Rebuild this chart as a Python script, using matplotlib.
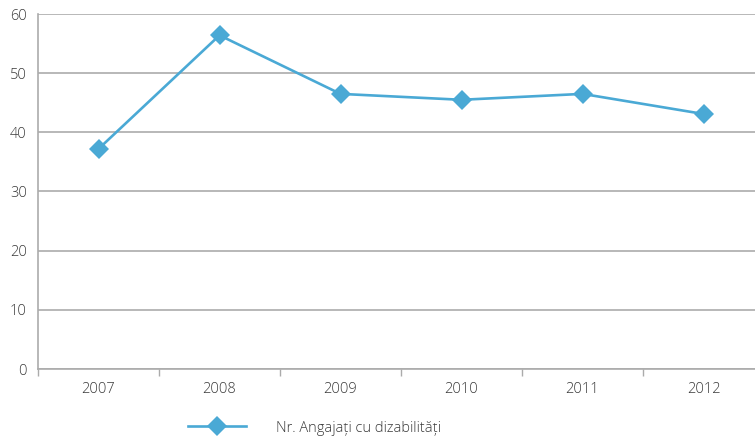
import numpy as np
import matplotlib
matplotlib.use("Agg")
import matplotlib.pyplot as plt
from matplotlib.ticker import FixedLocator

years = ["2007", "2008", "2009", "2010", "2011", "2012"]
angajati = [37.2, 56.4, 46.5, 45.5, 46.5, 43.1]
series_name = "Nr. Angajați cu dizabilități"

plt.rcParams['font.family'] = ['Open Sans', 'DejaVu Sans']
plt.rcParams['font.weight'] = 'light'

line_col = '#4aa9d5'
grid_col = '#ababab'
text_col = '#3a3a3a'

fig = plt.figure(figsize=(7.55, 4.36), dpi=100)
ax = fig.add_axes([38/755, 67/436, 726/755, 355/436])

x = np.arange(len(years))
ax.plot(x, angajati, color=line_col, lw=1.9, marker='D', markersize=10,
        markeredgewidth=0, label=series_name)

ax.set_xlim(-0.5, len(years) - 0.5)
ax.set_ylim(0, 60)
ax.set_yticks(range(0, 61, 10))
ax.yaxis.grid(True, color=grid_col, lw=1.2)
ax.set_axisbelow(True)

ax.set_xticks(x)
ax.set_xticklabels(years)
ax.xaxis.set_minor_locator(FixedLocator(np.arange(-0.5, len(years), 1.0)))
ax.tick_params(axis='x', which='major', length=0, pad=9, labelsize=10.5, colors=text_col)
ax.tick_params(axis='x', which='minor', length=5, width=1, color=grid_col, direction='out')
ax.tick_params(axis='y', length=0, pad=8, labelsize=10.5, colors=text_col)

for s in ['top', 'right']:
    ax.spines[s].set_visible(False)
ax.spines['left'].set_color(grid_col)
ax.spines['bottom'].set_color(grid_col)
ax.spines['left'].set_linewidth(1.2)
ax.spines['bottom'].set_linewidth(1.2)

leg = fig.legend(loc='center left', bbox_to_anchor=(175/755, 1 - 428/436), frameon=False,
                 handlelength=4.0, handletextpad=2.0, fontsize=10.5)
for t in leg.get_texts():
    t.set_color(text_col)

fig.savefig("out.png", dpi=100)
